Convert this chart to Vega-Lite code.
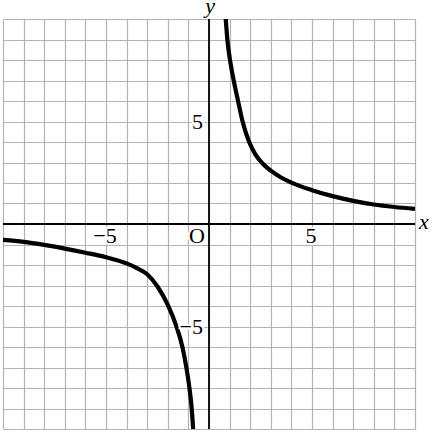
{
  "$schema": "https://vega.github.io/schema/vega-lite/v6.json",
  "width": 412,
  "height": 410,
  "autosize": "none",
  "padding": {"left": 3, "top": 19, "right": 19, "bottom": 2},
  "background": "white",
  "datasets": {
    "curve": [
      {"branch": "right", "x": 0.76, "y": 10.5},
      {"branch": "right", "x": 0.81, "y": 10},
      {"branch": "right", "x": 0.89, "y": 9},
      {"branch": "right", "x": 1.02, "y": 8},
      {"branch": "right", "x": 1.2, "y": 7},
      {"branch": "right", "x": 1.41, "y": 6},
      {"branch": "right", "x": 1.63, "y": 5},
      {"branch": "right", "x": 1.95, "y": 4},
      {"branch": "right", "x": 2.25, "y": 3.4},
      {"branch": "right", "x": 2.6, "y": 2.95},
      {"branch": "right", "x": 3, "y": 2.6},
      {"branch": "right", "x": 3.5, "y": 2.27},
      {"branch": "right", "x": 4, "y": 2.02},
      {"branch": "right", "x": 5, "y": 1.65},
      {"branch": "right", "x": 6, "y": 1.36},
      {"branch": "right", "x": 7, "y": 1.13},
      {"branch": "right", "x": 8, "y": 0.95},
      {"branch": "right", "x": 9, "y": 0.83},
      {"branch": "right", "x": 10, "y": 0.74},
      {"branch": "left", "x": -10, "y": -0.77},
      {"branch": "left", "x": -9, "y": -0.87},
      {"branch": "left", "x": -8, "y": -1.02},
      {"branch": "left", "x": -7, "y": -1.2},
      {"branch": "left", "x": -6, "y": -1.4},
      {"branch": "left", "x": -5, "y": -1.62},
      {"branch": "left", "x": -4, "y": -1.92},
      {"branch": "left", "x": -3.5, "y": -2.15},
      {"branch": "left", "x": -3, "y": -2.45},
      {"branch": "left", "x": -2.5, "y": -3.05},
      {"branch": "left", "x": -2, "y": -3.95},
      {"branch": "left", "x": -1.58, "y": -5},
      {"branch": "left", "x": -1.29, "y": -6},
      {"branch": "left", "x": -1.1, "y": -7},
      {"branch": "left", "x": -0.95, "y": -8},
      {"branch": "left", "x": -0.84, "y": -9},
      {"branch": "left", "x": -0.77, "y": -10},
      {"branch": "left", "x": -0.74, "y": -10.5}
    ],
    "origin": [{"v": 0}],
    "xticks": [
      {"label": "−5", "x": -5, "y": 0},
      {"label": "5", "x": 5, "y": 0}
    ],
    "yticks": [
      {"label": "5", "x": 0, "y": 5},
      {"label": "−5", "x": 0, "y": -5}
    ],
    "olabel": [{"label": "O", "x": 0, "y": 0}],
    "ylabel": [{"label": "y", "x": 0, "y": 10}],
    "xlabel": [{"label": "x", "x": 10, "y": 0}]
  },
  "layer": [
    {
      "data": {"name": "curve"},
      "mark": {"type": "line", "color": "black", "strokeWidth": 4.2, "interpolate": "monotone", "clip": true},
      "encoding": {
        "x": {
          "field": "x", "type": "quantitative",
          "scale": {"domain": [-10, 10], "nice": false, "zero": false},
          "axis": {"title": null}
        },
        "y": {
          "field": "y", "type": "quantitative",
          "scale": {"domain": [-10, 10], "nice": false, "zero": false},
          "axis": {"title": null}
        },
        "detail": {"field": "branch", "type": "nominal"}
      }
    },
    {
      "data": {"name": "origin"},
      "mark": {"type": "rule", "color": "black", "strokeWidth": 1.8},
      "encoding": {
        "x": {"field": "v", "type": "quantitative"}
      }
    },
    {
      "data": {"name": "origin"},
      "mark": {"type": "rule", "color": "black", "strokeWidth": 1.8},
      "encoding": {
        "y": {"field": "v", "type": "quantitative"}
      }
    },
    {
      "data": {"name": "xticks"},
      "mark": {"type": "text", "font": "Liberation Serif", "fontSize": 22, "align": "center", "baseline": "alphabetic", "dx": -1, "dy": 19, "stroke": "white", "strokeWidth": 4, "fill": "white"},
      "encoding": {
        "x": {"field": "x", "type": "quantitative"},
        "y": {"field": "y", "type": "quantitative"},
        "text": {"field": "label"}
      }
    },
    {
      "data": {"name": "xticks"},
      "mark": {"type": "text", "font": "Liberation Serif", "fontSize": 22, "align": "center", "baseline": "alphabetic", "dx": -1, "dy": 19, "color": "black"},
      "encoding": {
        "x": {"field": "x", "type": "quantitative"},
        "y": {"field": "y", "type": "quantitative"},
        "text": {"field": "label"}
      }
    },
    {
      "data": {"name": "yticks"},
      "mark": {"type": "text", "font": "Liberation Serif", "fontSize": 22, "align": "right", "baseline": "alphabetic", "dx": -6, "dy": 7, "stroke": "white", "strokeWidth": 4, "fill": "white"},
      "encoding": {
        "x": {"field": "x", "type": "quantitative"},
        "y": {"field": "y", "type": "quantitative"},
        "text": {"field": "label"}
      }
    },
    {
      "data": {"name": "yticks"},
      "mark": {"type": "text", "font": "Liberation Serif", "fontSize": 22, "align": "right", "baseline": "alphabetic", "dx": -6, "dy": 7, "color": "black"},
      "encoding": {
        "x": {"field": "x", "type": "quantitative"},
        "y": {"field": "y", "type": "quantitative"},
        "text": {"field": "label"}
      }
    },
    {
      "data": {"name": "olabel"},
      "mark": {"type": "text", "font": "Liberation Serif", "fontSize": 22, "align": "center", "baseline": "alphabetic", "dx": -12, "dy": 19, "stroke": "white", "strokeWidth": 4, "fill": "white"},
      "encoding": {
        "x": {"field": "x", "type": "quantitative"},
        "y": {"field": "y", "type": "quantitative"},
        "text": {"field": "label"}
      }
    },
    {
      "data": {"name": "olabel"},
      "mark": {"type": "text", "font": "Liberation Serif", "fontSize": 22, "align": "center", "baseline": "alphabetic", "dx": -12, "dy": 19, "color": "black"},
      "encoding": {
        "x": {"field": "x", "type": "quantitative"},
        "y": {"field": "y", "type": "quantitative"},
        "text": {"field": "label"}
      }
    },
    {
      "data": {"name": "ylabel"},
      "mark": {"type": "text", "font": "Liberation Serif", "fontSize": 22, "fontStyle": "italic", "align": "center", "baseline": "alphabetic", "dx": 1, "dy": -6, "color": "black"},
      "encoding": {
        "x": {"field": "x", "type": "quantitative"},
        "y": {"field": "y", "type": "quantitative"},
        "text": {"field": "label"}
      }
    },
    {
      "data": {"name": "xlabel"},
      "mark": {"type": "text", "font": "Liberation Serif", "fontSize": 22, "fontStyle": "italic", "align": "left", "baseline": "alphabetic", "dx": 4, "dy": 5, "color": "black"},
      "encoding": {
        "x": {"field": "x", "type": "quantitative"},
        "y": {"field": "y", "type": "quantitative"},
        "text": {"field": "label"}
      }
    }
  ],
  "config": {
    "view": {"stroke": null},
    "axis": {
      "grid": true,
      "tickCount": 20,
      "gridColor": "#b3b3b3",
      "gridWidth": 1.2,
      "gridOpacity": 1,
      "labels": false,
      "ticks": false,
      "domain": false,
      "title": null
    }
  }
}
